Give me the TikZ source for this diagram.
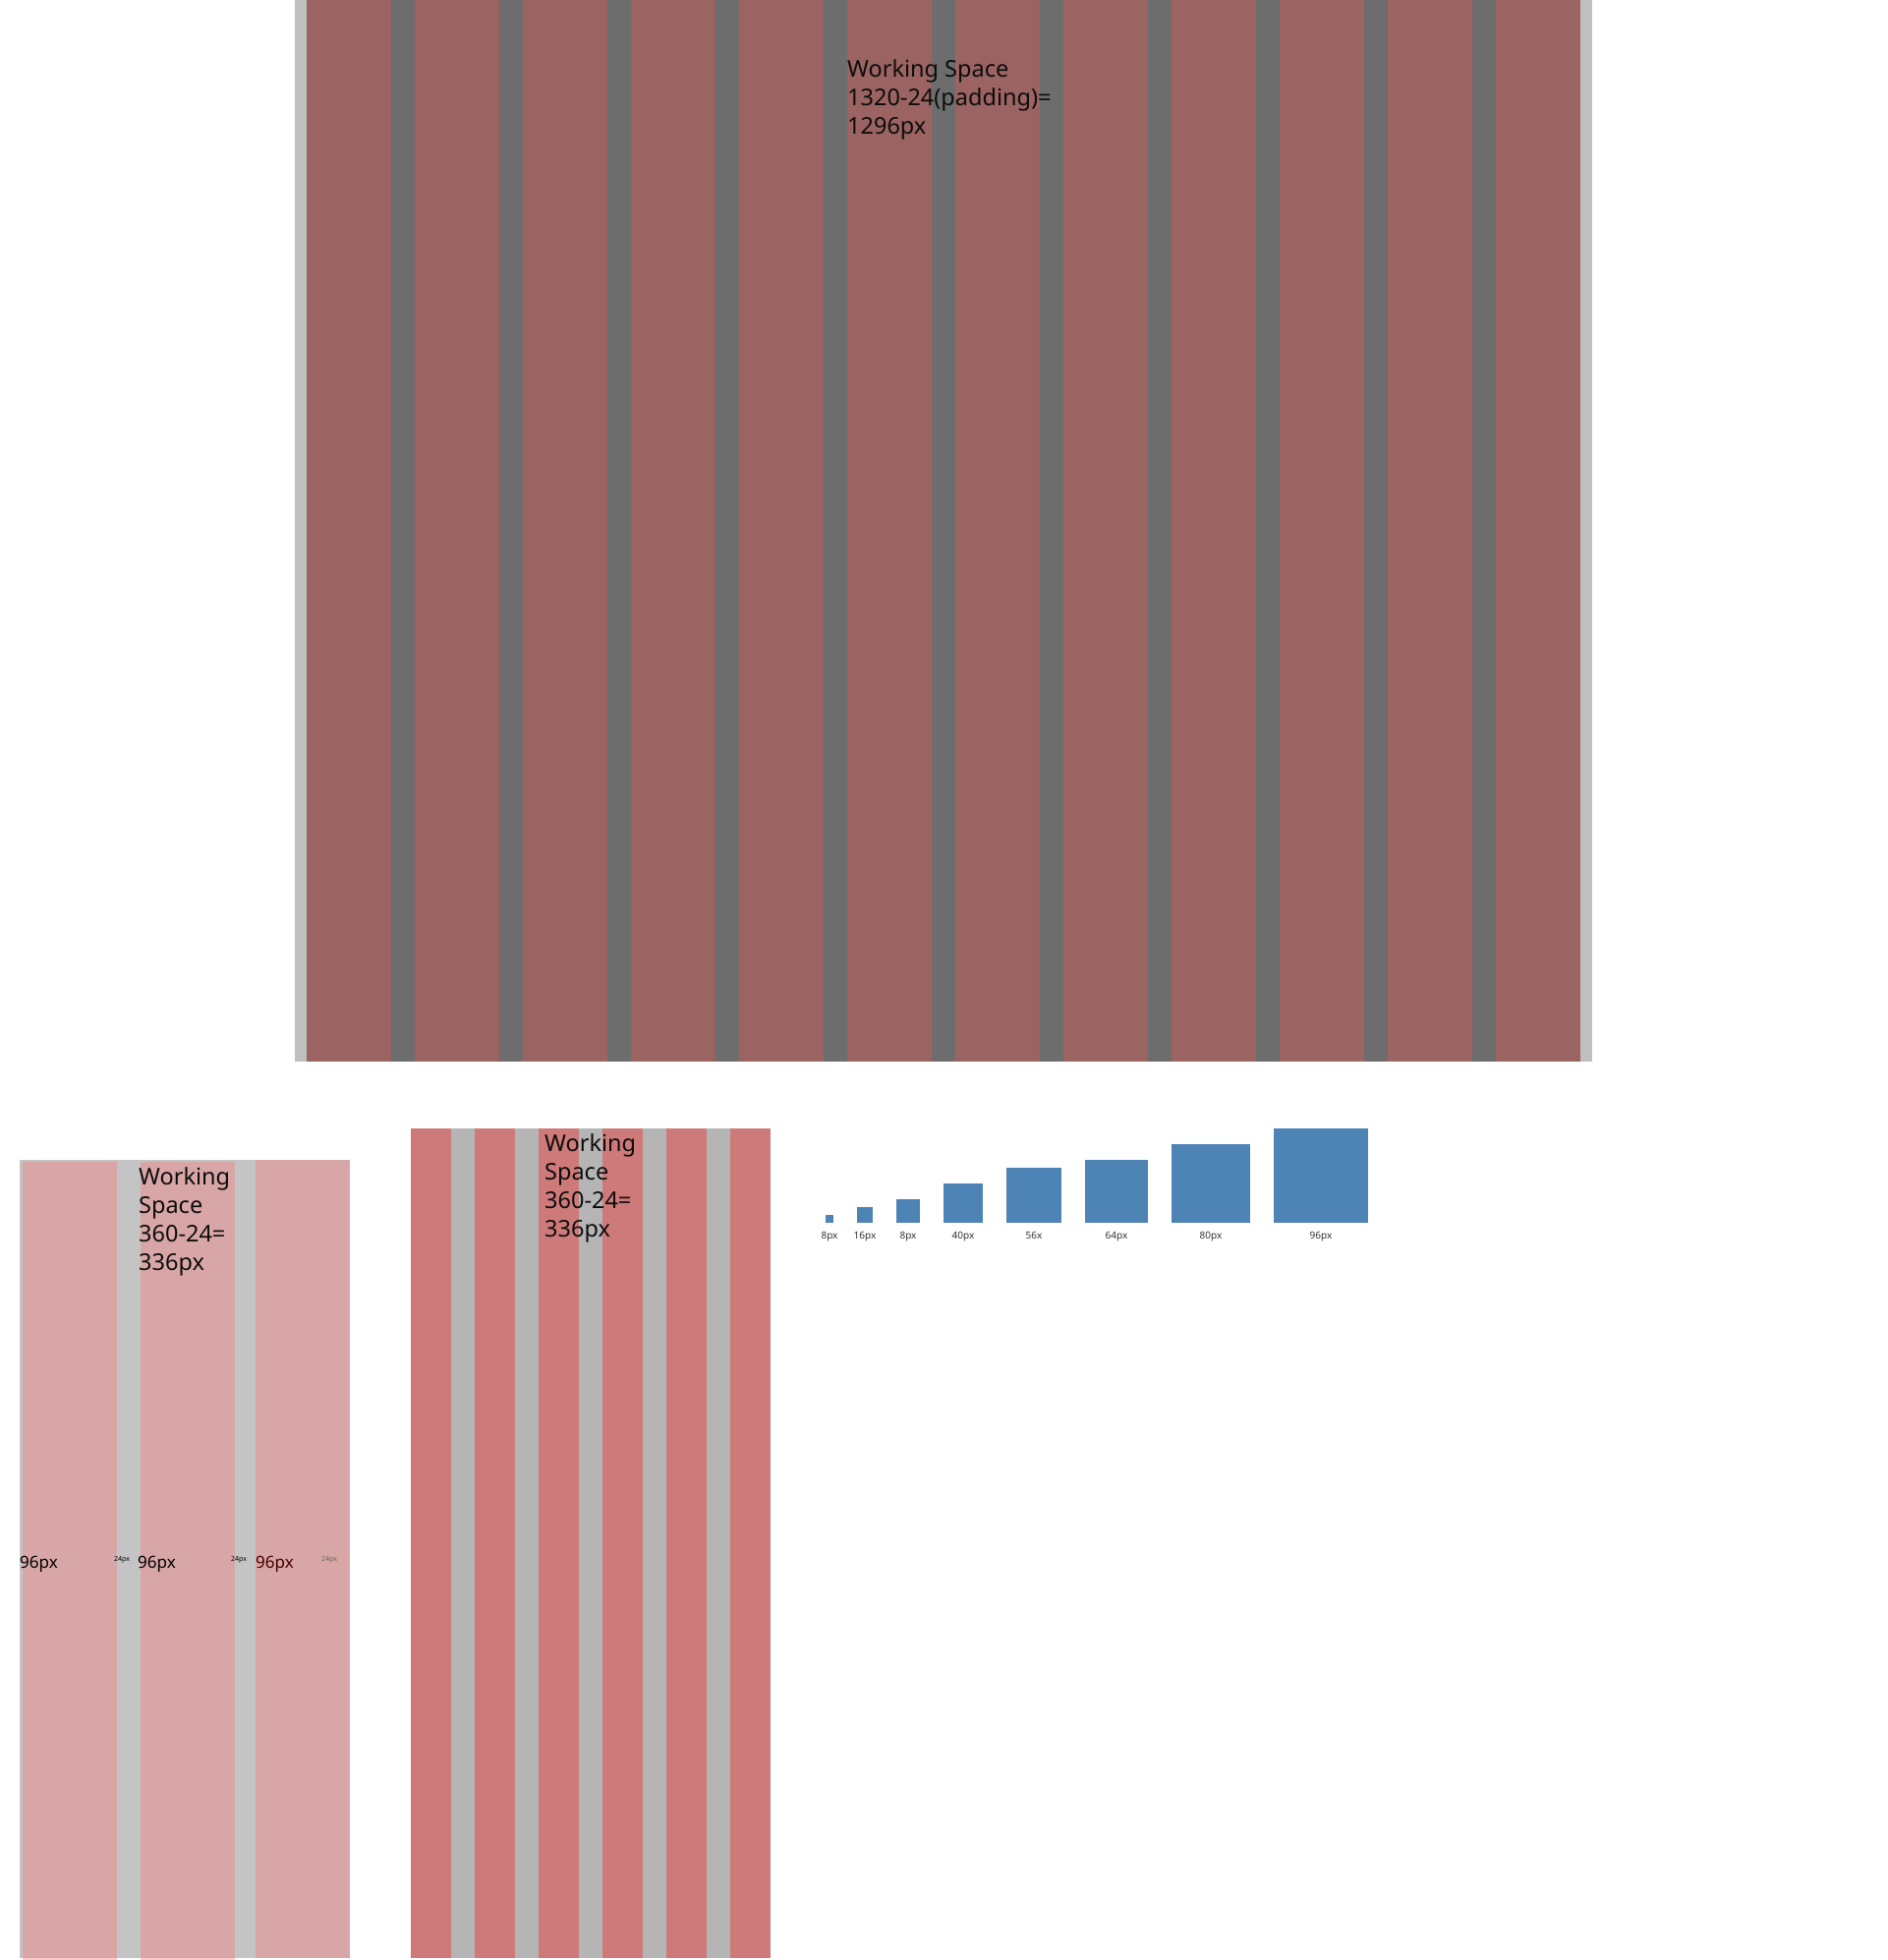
\documentclass[tikz,border=0pt]{standalone}
\usepackage{fontspec}
\setmainfont{Noto Sans}
\usepackage{xcolor}

\definecolor{framegray}{HTML}{BFBFBF}
\definecolor{guttergray}{HTML}{6D6D6D}
\definecolor{deskcol}{HTML}{9B6361}
\definecolor{mobframe}{HTML}{C4C4C4}
\definecolor{mobcol}{HTML}{D9A6A7}
\definecolor{mobedge}{HTML}{FFC8C8}
\definecolor{tabgutter}{HTML}{B5B5B5}
\definecolor{tabcol}{HTML}{CE7A7A}
\definecolor{spacer}{HTML}{4E83B5}

\begin{document}
\begin{tikzpicture}[x=1pt,y=-1pt,
    gridlabel/.style={inner sep=0pt,anchor=base west,align=left,text=black!95,font=\fontsize{23.5}{29}\selectfont},
    sizelabel/.style={inner sep=0pt,anchor=base,font=\fontsize{10}{12}\selectfont,text=black!80}]
    \useasboundingbox (0,0) rectangle (1920,1994);
    % desktop: 12 columns
    \fill[framegray] (300,0) rectangle (1620,1080);
    \fill[guttergray] (312,0) rectangle (1608,1080);
    \foreach \i in {0,...,11} \fill[deskcol] (312+110*\i,0) rectangle +(86,1080);
    \node[gridlabel] (desk) at (862,136) {Working Space\\1320-24(padding)=\\1296px};
    % mobile: 3 columns
    \fill[mobframe] (20,1180) rectangle (356,1992);
    \foreach \x in {23,143} {
      \fill[mobcol] (\x,1182) rectangle +(96,810);
      \fill[mobedge] (\x,1992) rectangle +(96,2);
    }
    \fill[mobcol] (260,1180) rectangle (356,1992);
    \node[gridlabel] (mob) at (141,1292) {Working\\Space\\360-24=\\336px};
    \foreach \x/\c [count=\n] in {20/black,140/black,260/{black!55!red!60!black}}
      \node[gridlabel,font=\fontsize{17}{20}\selectfont,text=\c] (col\n) at (\x,1595) {96px};
    \foreach \x/\c [count=\n] in {116/black,235/black,327/black!60}
      \node[gridlabel,font=\fontsize{7}{8}\selectfont,text=\c] (gap\n) at (\x,1588) {24px};
    % tablet: 6 columns
    \fill[tabgutter] (418,1148) rectangle (784,1992);
    \foreach \i in {0,...,5} \fill[tabcol] (418+65*\i,1148) rectangle +(41,844);
    \node[gridlabel] (tab) at (554,1258) {Working\\Space\\360-24=\\336px};
    % spacing scale
    \foreach \x/\s/\t [count=\n] in {840/8/8px,872/16/16px,912/24/8px,960/40/40px,1024/56/56x,1104/64/64px,1192/80/80px,1296/96/96px} {
      \fill[spacer] (\x,1244) rectangle +(\s,-\s);
      \node[sizelabel] (size\n) at (\x+\s/2,1260) {\t};
    }
\end{tikzpicture}
\end{document}
